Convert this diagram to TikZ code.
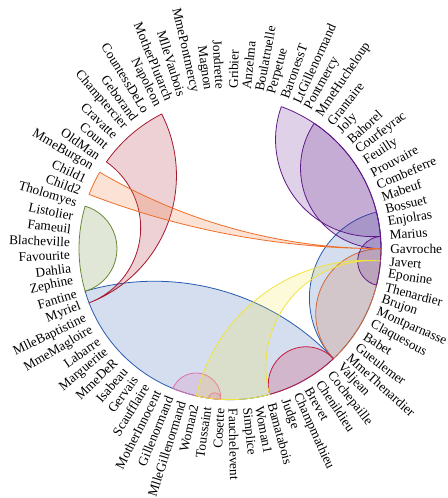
\documentclass[tikz,border=0pt]{standalone}
\usepackage{fontspec}
\setmainfont{Liberation Serif}
\usepackage{tikz}
\usetikzlibrary{calc}

\definecolor{valjeanblue}{RGB}{40,90,175}
\definecolor{myrielred}{RGB}{165,25,45}
\definecolor{childorange}{RGB}{240,110,40}
\definecolor{fantinegreen}{RGB}{105,135,55}
\definecolor{mariuspurple}{RGB}{95,25,135}
\definecolor{javertyellow}{RGB}{240,228,60}
\definecolor{bamacrimson}{RGB}{200,25,65}
\definecolor{cosettepink}{RGB}{225,110,175}
\definecolor{gangsienna}{RGB}{210,105,55}

\def\chordrad{113.25}
\def\labelrad{120}

\tikzset{
  chordlabel/.style={
      inner sep=0pt,
      font=\fontsize{10}{12}\selectfont,
  },
  chord/.style={
      draw=#1,
      fill=#1,
      fill opacity=0.2,
      line width=0.6pt,
      line join=round,
  },
}

% lens: arc of the circle from #2 to #3 (counter-clockwise), closed by an inner arc
\newcommand{\lens}[3]{
  \pgfmathsetmacro{\lensA}{\csname ang-#2\endcsname}
  \pgfmathsetmacro{\lensB}{\csname ang-#3\endcsname}
  \pgfmathsetmacro{\lensB}{\lensB+360*(\lensB<\lensA)}
  \pgfmathsetmacro{\lensR}{\chordrad*tan((\lensB-\lensA)/2)}
  \pgfmathsetmacro{\lensS}{\lensB+90}
  \pgfmathsetmacro{\lensE}{\lensA+270}
  \draw[#1] (#2) arc[start angle=\lensA, end angle=\lensB, radius=\chordrad pt]
    arc[start angle=\lensS, end angle=\lensE, radius=\lensR pt] -- cycle;
}

% ribbon: from hub #2 to the arc #3 -- #4
\newcommand{\ribbon}[4]{
  \pgfmathsetmacro{\rbP}{\csname ang-#2\endcsname}
  \pgfmathsetmacro{\rbA}{\csname ang-#3\endcsname}
  \pgfmathsetmacro{\rbB}{\csname ang-#4\endcsname}
  \pgfmathsetmacro{\rbS}{mod(\rbA-\rbP+540,360)-180}
  \pgfmathsetmacro{\rbT}{mod(\rbB-\rbA+540,360)-180}
  \pgfmathsetmacro{\rbU}{mod(\rbP-\rbB+540,360)-180}
  \pgfmathsetmacro{\rbSg}{\rbS/abs(\rbS)}
  \pgfmathsetmacro{\rbUg}{\rbU/abs(\rbU)}
  \pgfmathsetmacro{\rbSr}{\chordrad*tan(abs(\rbS)/2)}
  \pgfmathsetmacro{\rbUr}{\chordrad*tan(abs(\rbU)/2)}
  \pgfmathsetmacro{\rbSs}{\rbP-90*\rbSg}
  \pgfmathsetmacro{\rbSe}{\rbP+\rbS-270*\rbSg}
  \pgfmathsetmacro{\rbTe}{\rbA+\rbT}
  \pgfmathsetmacro{\rbUs}{\rbB-90*\rbUg}
  \pgfmathsetmacro{\rbUe}{\rbB+\rbU-270*\rbUg}
  \draw[#1] (#2) arc[start angle=\rbSs, end angle=\rbSe, radius=\rbSr pt]
    arc[start angle=\rbA, end angle=\rbTe, radius=\chordrad pt]
    arc[start angle=\rbUs, end angle=\rbUe, radius=\rbUr pt] -- cycle;
}

\begin{document}
\begin{tikzpicture}
  \useasboundingbox (-172.5pt,-187pt) rectangle (162.75pt,186.5pt);

  \foreach \nm [count=\i from 0] in {Gavroche,Javert,Eponine,Thenardier,Brujon,%
      Montparnasse,Claquesous,Babet,Gueulemer,MmeThenardier,Valjean,Cochepaille,%
      Chenildieu,Brevet,Champmathieu,Judge,Bamatabois,Woman1,Simplice,Fauchelevent,%
      Cosette,Toussaint,Woman2,MlleGillenormand,Gillenormand,MotherInnocent,%
      Scaufflaire,Gervais,Isabeau,MmeDeR,Marguerite,Labarre,MmeMagloire,%
      MlleBaptistine,Myriel,Fantine,Zephine,Dahlia,Favourite,Blacheville,Fameuil,%
      Listolier,Tholomyes,Child2,Child1,MmeBurgon,OldMan,Count,Cravatte,%
      Champtercier,Geborand,CountessDeLo,Napoleon,MotherPlutarch,MlleVaubois,%
      MmePontmercy,Magnon,Jondrette,Gribier,Anzelma,Boulatruelle,Perpetue,%
      BaronessT,LtGillenormand,Pontmercy,MmeHucheloup,Grantaire,Joly,Bahorel,%
      Courfeyrac,Feuilly,Prouvaire,Combeferre,Mabeuf,Bossuet,Enjolras,Marius} {
    \pgfmathsetmacro{\ang}{-\i*(360/77)}
    \expandafter\xdef\csname ang-\nm\endcsname{\ang}
    \coordinate (\nm) at (\ang:\chordrad pt);
    \ifnum\i<20
      \node[chordlabel, anchor=west, rotate=\ang] (l\nm) at (\ang:\labelrad pt) {\nm};
    \else\ifnum\i<58
      \node[chordlabel, anchor=east, rotate=\ang+180] (l\nm) at (\ang:\labelrad pt) {\nm};
    \else
      \node[chordlabel, anchor=west, rotate=\ang] (l\nm) at (\ang:\labelrad pt) {\nm};
    \fi\fi
  }

  \lens{chord=valjeanblue}{Fantine}{Valjean}
  \lens{chord=valjeanblue}{Valjean}{Bossuet}
  \lens{chord=gangsienna}{Valjean}{Gavroche}
  \lens{chord=mariuspurple}{Marius}{BaronessT}
  \lens{chord=mariuspurple}{Gavroche}{MmeHucheloup}
  \lens{chord=mariuspurple}{Thenardier}{Marius}
  \lens{chord=fantinegreen}{Tholomyes}{Fantine}
  \lens{chord=bamacrimson}{Bamatabois}{Valjean}
  \lens{chord=cosettepink}{Gillenormand}{Cosette}
  \lens{chord=cosettepink}{Toussaint}{Cosette}
  \ribbon{chord=javertyellow}{Javert}{Bamatabois}{Woman2}
  \ribbon{chord=myrielred}{Myriel}{OldMan}{Napoleon}
  \ribbon{chord=childorange}{Gavroche}{MmeBurgon}{Child2}
\end{tikzpicture}
\end{document}
